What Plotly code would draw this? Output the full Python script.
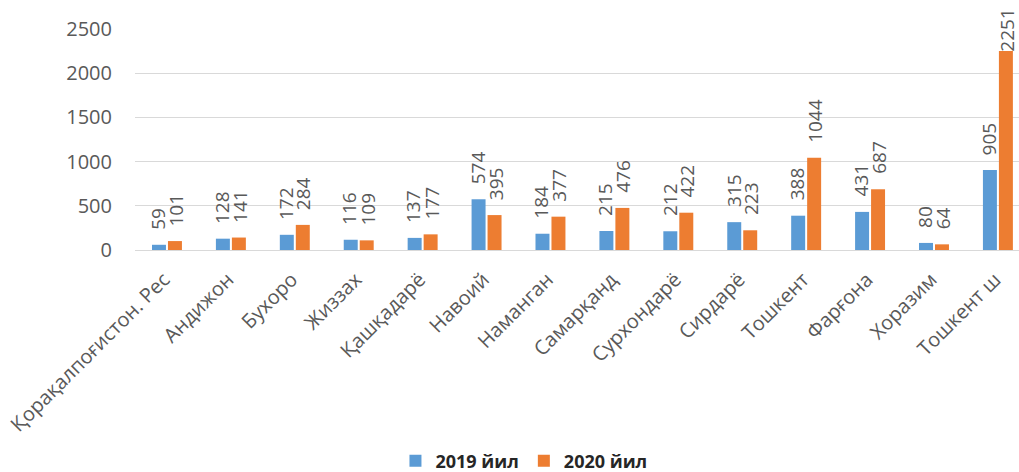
import plotly.graph_objects as go

categories = ["Қорақалпоғистон. Рес", "Андижон", "Бухоро", "Жиззах", "Қашқадарё",
              "Навоий", "Наманган", "Самарқанд", "Сурхондарё", "Сирдарё",
              "Тошкент", "Фарғона", "Хоразим", "Тошкент ш"]
values_2019 = [59, 128, 172, 116, 137, 574, 184, 215, 212, 315, 388, 431, 80, 905]
values_2020 = [101, 141, 284, 109, 177, 395, 377, 476, 422, 223, 1044, 687, 64, 2251]
series_names = ["2019 йил", "2020 йил"]
colors = ["#5B9BD5", "#ED7D31"]

FONT = "Open Sans, Noto Sans, Liberation Sans, sans-serif"
W, H = 1019, 472
ML, MR, MT, MB = 135, 0, 29, 222
YMAX = 2500
LABEL_SIZE = 19
LABEL_GAP = 14
BAR_OFFSETS = [-9, 9]

fig = go.Figure()
for name, vals, col in zip(series_names, [values_2019, values_2020], colors):
    fig.add_trace(go.Bar(
        x=categories, y=vals, name=name, marker_color=col,
        marker_line_width=0,
    ))

# data labels (rotated), placed above each bar; kept inside the page like Excel does
plot_h = H - MT - MB
for vals, dx in zip([values_2019, values_2020], BAR_OFFSETS):
    for cat, v in zip(categories, vals):
        txt = str(v)
        top_px = MT + plot_h * (1 - v / YMAX)
        lab_len = 0.57 * LABEL_SIZE * len(txt)
        shift = max(-2, min(LABEL_GAP, top_px - 9 - lab_len))
        fig.add_annotation(
            x=cat, y=v, xref="x", yref="y", text=txt, showarrow=False,
            textangle=-90, xanchor="center", yanchor="bottom",
            xshift=dx, yshift=shift, borderpad=0,
            font=dict(family=FONT, size=LABEL_SIZE, color="#595959"),
        )

fig.update_layout(
    width=W, height=H,
    paper_bgcolor="white", plot_bgcolor="white",
    margin=dict(l=ML, r=MR, t=MT, b=MB, autoexpand=False),
    barmode="group", bargap=0.5, bargroupgap=0.125,
    font=dict(family=FONT, color="#595959"),
    showlegend=True,
    legend=dict(orientation="h", x=0.44, xanchor="center", y=-0.955, yanchor="middle",
                font=dict(family=FONT, size=18, color="#262626", weight="bold"),
                itemwidth=30, traceorder="normal"),
)
fig.update_xaxes(
    range=[-0.5, 13.33], tickangle=-45, showgrid=False, showline=False,
    ticks="outside", ticklen=9, tickcolor="rgba(0,0,0,0)",
    automargin=False, ticklabelshift=-3,
    tickfont=dict(family=FONT, size=20, color="#595959"),
)
fig.update_yaxes(
    range=[0, YMAX], dtick=500, showgrid=True, gridcolor="#D9D9D9", gridwidth=1.3,
    zeroline=True, zerolinecolor="#D9D9D9", zerolinewidth=1.3, automargin=False,
    tickfont=dict(family=FONT, size=20, color="#595959"), ticklabelstandoff=22,
)

fig.write_html("out.html", config={"displayModeBar": False},
               post_script="document.body.style.margin='0';document.body.style.overflow='hidden';")
